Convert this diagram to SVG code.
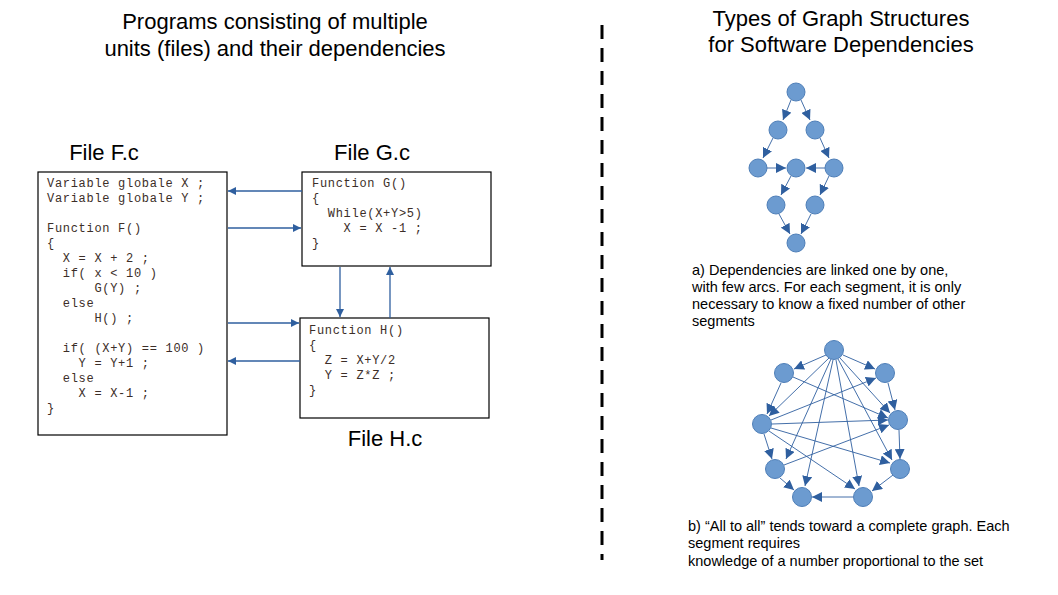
<svg xmlns="http://www.w3.org/2000/svg" width="1058" height="595" viewBox="0 0 1058 595">
<style>
.t{font-family:"Liberation Sans",Arial,sans-serif;fill:#000}
.h{font-size:22px}
.s{font-size:14.5px}
.c{font-family:"Liberation Mono","Courier New",monospace;font-size:12px;fill:#3c2e28;letter-spacing:0.7px;white-space:pre}
.box{fill:#fff;stroke:#000;stroke-width:1.2}
.e{stroke:#2f5f9f;stroke-width:1.3;fill:none;marker-end:url(#a)}
.g{stroke:#2f5f9f;stroke-width:0.9;fill:none;marker-end:url(#b)}
.n{fill:#6c9bd0;stroke:#4f7fb8;stroke-width:1}
</style>
<defs>
<marker id="a" viewBox="0 0 10 10" refX="10" refY="5" markerWidth="8" markerHeight="8" markerUnits="userSpaceOnUse" orient="auto"><path d="M0,0L10,5L0,10z" fill="#2f5f9f"/></marker>
<marker id="b" viewBox="0 0 10 10" refX="10" refY="5" markerWidth="10" markerHeight="10" markerUnits="userSpaceOnUse" orient="auto"><path d="M0,0L10,5L0,10z" fill="#2f5f9f"/></marker>
</defs>
<text class="t h" x="275" y="29" text-anchor="middle">Programs consisting of multiple</text>
<text class="t h" x="275" y="56" text-anchor="middle">units (files) and their dependencies</text>
<text class="t h" x="841" y="26" text-anchor="middle">Types of Graph Structures</text>
<text class="t h" x="841" y="52" text-anchor="middle">for Software Dependencies</text>
<line x1="602" y1="25" x2="602" y2="560" stroke="#000" stroke-width="3" stroke-dasharray="14,9"/>

<g id="fileF">
<text class="t h" x="104" y="160" text-anchor="middle">File F.c</text>
<rect class="box" x="38" y="172" width="189" height="263"/>
<text class="c" x="47" y="187">Variable globale X ;</text>
<text class="c" x="47" y="202">Variable globale Y ;</text>
<text class="c" x="47" y="232">Function F()</text>
<text class="c" x="47" y="247">{</text>
<text class="c" x="47" y="262">  X = X + 2 ;</text>
<text class="c" x="47" y="277">  if( x &lt; 10 )</text>
<text class="c" x="47" y="292">      G(Y) ;</text>
<text class="c" x="47" y="307">  else</text>
<text class="c" x="47" y="322">      H() ;</text>
<text class="c" x="47" y="352">  if( (X+Y) == 100 )</text>
<text class="c" x="47" y="367">    Y = Y+1 ;</text>
<text class="c" x="47" y="382">  else</text>
<text class="c" x="47" y="397">    X = X-1 ;</text>
<text class="c" x="47" y="412">}</text>
</g>
<g id="fileG">
<text class="t h" x="372" y="160" text-anchor="middle">File G.c</text>
<rect class="box" x="302" y="172" width="189" height="94"/>
<text class="c" x="312" y="187">Function G()</text>
<text class="c" x="312" y="202">{</text>
<text class="c" x="312" y="217">  While(X+Y&gt;5)</text>
<text class="c" x="312" y="232">    X = X -1 ;</text>
<text class="c" x="312" y="247">}</text>
</g>
<g id="fileH">
<text class="t h" x="385" y="446" text-anchor="middle">File H.c</text>
<rect class="box" x="300" y="318" width="189" height="100"/>
<text class="c" x="309" y="334">Function H()</text>
<text class="c" x="309" y="349">{</text>
<text class="c" x="309" y="364">  Z = X+Y/2</text>
<text class="c" x="309" y="379">  Y = Z*Z ;</text>
<text class="c" x="309" y="394">}</text>
</g>
<g id="connectors">
<line class="e" x1="302" y1="191" x2="228" y2="191"/>
<line class="e" x1="228" y1="228" x2="301" y2="228"/>
<line class="e" x1="228" y1="323" x2="299" y2="323"/>
<line class="e" x1="300" y1="361" x2="228" y2="361"/>
<line class="e" x1="340" y1="267" x2="340" y2="317"/>
<line class="e" x1="390" y1="318" x2="390" y2="267"/>
</g>

<g id="graphA">
<g id="graphA-edges">
<line class="g" x1="791" y1="100" x2="783" y2="120"/>
<line class="g" x1="801" y1="100" x2="810" y2="120"/>
<line class="g" x1="773" y1="138" x2="763" y2="158"/>
<line class="g" x1="820" y1="138" x2="829" y2="158"/>
<line class="g" x1="767" y1="168" x2="786" y2="168"/>
<line class="g" x1="825" y1="168" x2="806" y2="168"/>
<line class="g" x1="791" y1="176" x2="781" y2="195"/>
<line class="g" x1="829" y1="176" x2="820" y2="195"/>
<line class="g" x1="779" y1="214" x2="790" y2="234"/>
<line class="g" x1="811" y1="214" x2="801" y2="234"/>
</g>
<circle class="n" cx="796" cy="92" r="9"/>
<circle class="n" cx="778" cy="130" r="9"/>
<circle class="n" cx="815" cy="130" r="9"/>
<circle class="n" cx="758" cy="168" r="9"/>
<circle class="n" cx="796" cy="168" r="9"/>
<circle class="n" cx="834" cy="168" r="9"/>
<circle class="n" cx="776" cy="205" r="9"/>
<circle class="n" cx="815" cy="205" r="9"/>
<circle class="n" cx="796" cy="243" r="9"/>
</g>
<text class="t s" x="692" y="275">a) Dependencies are linked one by one,</text>
<text class="t s" x="692" y="292">with few arcs. For each segment, it is only</text>
<text class="t s" x="692" y="309">necessary to know a fixed number of other</text>
<text class="t s" x="692" y="326">segments</text>

<g id="graphB">
<g id="graphB-edges">
<line class="g" x1="826" y1="355" x2="794" y2="369"/>
<line class="g" x1="843" y1="355" x2="875" y2="369"/>
<line class="g" x1="829" y1="358" x2="769" y2="416"/>
<line class="g" x1="840" y1="358" x2="890" y2="413"/>
<line class="g" x1="831" y1="359" x2="786" y2="459"/>
<line class="g" x1="833" y1="360" x2="805" y2="486"/>
<line class="g" x1="836" y1="360" x2="859" y2="486"/>
<line class="g" x1="838" y1="359" x2="892" y2="460"/>
<line class="g" x1="781" y1="383" x2="767" y2="414"/>
<line class="g" x1="793" y1="377" x2="888" y2="418"/>
<line class="g" x1="888" y1="383" x2="895" y2="410"/>
<line class="g" x1="771" y1="420" x2="876" y2="378"/>
<line class="g" x1="772" y1="424" x2="888" y2="420"/>
<line class="g" x1="771" y1="428" x2="890" y2="463"/>
<line class="g" x1="769" y1="431" x2="855" y2="489"/>
<line class="g" x1="764" y1="434" x2="772" y2="459"/>
<line class="g" x1="784" y1="465" x2="889" y2="425"/>
<line class="g" x1="780" y1="478" x2="794" y2="490"/>
<line class="g" x1="899" y1="430" x2="900" y2="459"/>
<line class="g" x1="893" y1="475" x2="872" y2="491"/>
<line class="g" x1="853" y1="497" x2="812" y2="497"/>
</g>
<circle class="n" cx="834" cy="350" r="9.5"/>
<circle class="n" cx="784" cy="373" r="9.5"/>
<circle class="n" cx="885" cy="373" r="9.5"/>
<circle class="n" cx="762" cy="424" r="9.5"/>
<circle class="n" cx="898" cy="420" r="9.5"/>
<circle class="n" cx="775" cy="469" r="9.5"/>
<circle class="n" cx="900" cy="469" r="9.5"/>
<circle class="n" cx="802" cy="497" r="9.5"/>
<circle class="n" cx="863" cy="497" r="9.5"/>
</g>
<text class="t s" x="688" y="531">b) “All to all” tends toward a complete graph. Each</text>
<text class="t s" x="688" y="548">segment requires</text>
<text class="t s" x="688" y="566">knowledge of a number proportional to the set</text>
</svg>
